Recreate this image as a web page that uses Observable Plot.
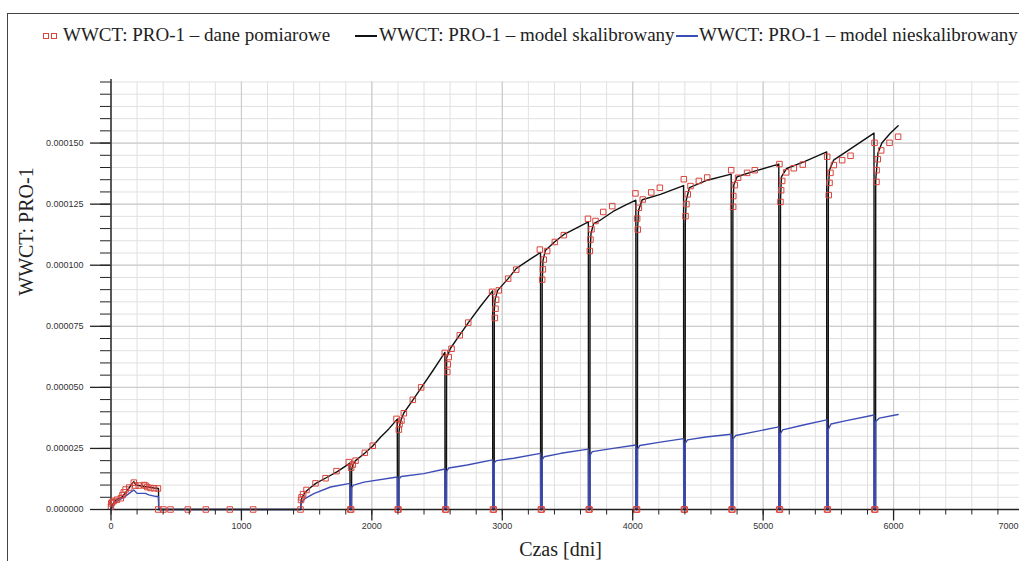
<!DOCTYPE html>
<html>
<head>
<meta charset="utf-8">
<script src="https://cdn.jsdelivr.net/npm/d3@7"></script>
<script src="https://cdn.jsdelivr.net/npm/@observablehq/plot@0.6"></script>
<style>
  html, body { margin: 0; padding: 0; background: #fff; overflow: hidden; }
  #wrap { position: relative; width: 1019px; height: 561px; overflow: hidden; background: #fff; }
  #legend { position: relative; height: 70px; font-family: "Liberation Serif", "Times New Roman", serif; color: #222; }
  #legend .t { position: absolute; top: 23px; font-size: 19px; line-height: 24px; white-space: nowrap; }
  #legend .sq { position: absolute; top: 33px; width: 4px; height: 4px; border: 1px solid #d9453c; }
  #legend .ln { position: absolute; top: 35px; width: 22px; height: 2px; }
  #frame { position: absolute; left: 7px; top: 13px; width: 2000px; height: 2000px; border-left: 1px solid #444; border-top: 1px solid #444; pointer-events: none; }
  #chart { width: 1060px; }
  #chart svg { display: block; max-width: none !important; }
</style>
</head>
<body>
<div id="wrap">
  <div id="legend">
    <span class="sq" style="left:43px"></span><span class="sq" style="left:51px"></span>
    <span class="t" style="left:63px">WWCT: PRO-1 – dane pomiarowe</span>
    <span class="ln" style="left:355px;background:#111"></span>
    <span class="t" style="left:379px">WWCT: PRO-1 – model skalibrowany</span>
    <span class="ln" style="left:676px;background:#3d4db7"></span>
    <span class="t" style="left:699px">WWCT: PRO-1 – model nieskalibrowany</span>
  </div>
  <div id="chart"></div>
  <div id="frame"></div>
</div>
<script>
// ---- data ----
const seriesNames = ["WWCT: PRO-1 – dane pomiarowe", "WWCT: PRO-1 – model skalibrowany", "WWCT: PRO-1 – model nieskalibrowany"];
const xMajorTicks = [0, 1000, 2000, 3000, 4000, 5000, 6000, 7000];
const xLabelTicks = [0, 1000, 2000, 3000, 4000, 5000, 6000];
const xEdgeTick = [7000];
const xMinorTicks = [0,200,400,600,800,1000,1200,1400,1600,1800,2000,2200,2400,2600,2800,3000,3200,3400,3600,3800,4000,4200,4400,4600,4800,5000,5200,5400,5600,5800,6000,6200,6400,6600,6800,7000];
const yMajorTicks = [0, 0.000025, 0.00005, 0.000075, 0.0001, 0.000125, 0.00015];
const yMinorTicks = [0,0.000005,0.00001,0.000015,0.00002,0.000025,0.00003,0.000035,0.00004,0.000045,0.00005,0.000055,0.00006,0.000065,0.00007,0.000075,0.00008,0.000085,0.00009,0.000095,0.0001,0.000105,0.00011,0.000115,0.00012,0.000125,0.00013,0.000135,0.00014,0.000145,0.00015,0.000155,0.00016,0.000165,0.00017,0.000175];

// calibrated model (day, WWCT)
const calibrated = [
  [0,0],[10,2.0e-6],[35,3.8e-6],[86,5.2e-6],[110,6.8e-6],[137,8.7e-6],[160,1.05e-5],[175,1.14e-5],[190,1.02e-5],[200,9.9e-6],[260,9.4e-6],[330,8.8e-6],[364,8.6e-6],[366,0],
  [1455,0],[1457,3.5e-6],[1465,5.0e-6],[1490,7.2e-6],[1530,9.0e-6],[1570,1.07e-5],[1650,1.30e-5],[1735,1.55e-5],[1832,1.9e-5],
  [1833,0],[1844,0],[1845,1.62e-5],[1855,1.85e-5],[1875,2.0e-5],[1945,2.3e-5],[2007,2.6e-5],[2066,2.96e-5],[2130,3.3e-5],[2195,3.7e-5],
  [2196,0],[2207,0],[2208,3.15e-5],[2215,3.5e-5],[2227,3.72e-5],[2245,3.95e-5],[2310,4.45e-5],[2378,4.98e-5],[2470,5.7e-5],[2560,6.43e-5],
  [2561,0],[2572,0],[2573,6.2e-5],[2603,6.6e-5],[2674,7.15e-5],[2743,7.67e-5],[2830,8.3e-5],[2926,8.95e-5],
  [2927,0],[2938,0],[2939,8.2e-5],[2945,8.6e-5],[2965,8.97e-5],[3045,9.45e-5],[3108,9.87e-5],[3200,1.02e-4],[3293,1.052e-4],
  [3294,0],[3305,0],[3306,9.25e-5],[3312,1.02e-4],[3330,1.06e-4],[3400,1.095e-4],[3470,1.125e-4],[3560,1.15e-4],[3660,1.177e-4],
  [3661,0],[3672,0],[3673,1.05e-4],[3680,1.13e-4],[3700,1.17e-4],[3753,1.185e-4],[3850,1.22e-4],[3940,1.245e-4],[4024,1.266e-4],
  [4025,0],[4036,0],[4037,1.145e-4],[4045,1.225e-4],[4073,1.268e-4],[4213,1.29e-4],[4390,1.326e-4],
  [4391,0],[4402,0],[4403,1.17e-4],[4410,1.266e-4],[4435,1.318e-4],[4571,1.348e-4],[4755,1.373e-4],
  [4756,0],[4767,0],[4768,1.225e-4],[4775,1.328e-4],[4800,1.362e-4],[4928,1.384e-4],[5120,1.414e-4],
  [5121,0],[5132,0],[5133,1.266e-4],[5140,1.362e-4],[5180,1.396e-4],[5312,1.423e-4],[5487,1.464e-4],
  [5488,0],[5499,0],[5500,1.307e-4],[5508,1.389e-4],[5540,1.43e-4],[5618,1.458e-4],[5850,1.541e-4],
  [5851,0],[5862,0],[5863,1.348e-4],[5880,1.458e-4],[5910,1.5e-4],[5975,1.54e-4],[6035,1.571e-4]
];

// uncalibrated model (day, WWCT)
const uncalibrated = [
  [0,0],[35,3.0e-6],[86,4.6e-6],[111,5.4e-6],[150,7.0e-6],[175,8.0e-6],[200,6.6e-6],[264,6.6e-6],[290,6.0e-6],[340,5.4e-6],[364,5.2e-6],[366,0],
  [1455,0],[1457,2.0e-6],[1466,3.2e-6],[1490,4.6e-6],[1555,6.5e-6],[1683,9.2e-6],[1832,1.07e-5],
  [1833,0],[1844,0],[1845,9.0e-6],[1860,1.0e-5],[1940,1.12e-5],[2195,1.33e-5],
  [2196,0],[2207,0],[2208,1.25e-5],[2225,1.35e-5],[2398,1.47e-5],[2560,1.66e-5],
  [2561,0],[2572,0],[2573,1.56e-5],[2590,1.7e-5],[2731,1.82e-5],[2926,2.03e-5],
  [2927,0],[2938,0],[2939,1.91e-5],[2955,2.0e-5],[3088,2.1e-5],[3293,2.3e-5],
  [3294,0],[3305,0],[3306,2.03e-5],[3320,2.16e-5],[3450,2.3e-5],[3660,2.47e-5],
  [3661,0],[3672,0],[3673,2.23e-5],[3690,2.37e-5],[3850,2.5e-5],[4024,2.64e-5],
  [4025,0],[4036,0],[4037,2.47e-5],[4055,2.62e-5],[4200,2.75e-5],[4390,2.9e-5],
  [4391,0],[4402,0],[4403,2.72e-5],[4420,2.85e-5],[4560,2.97e-5],[4755,3.08e-5],
  [4756,0],[4767,0],[4768,2.88e-5],[4790,3.03e-5],[4930,3.18e-5],[5120,3.38e-5],
  [5121,0],[5132,0],[5133,3.12e-5],[5150,3.26e-5],[5300,3.45e-5],[5487,3.67e-5],
  [5488,0],[5499,0],[5500,3.28e-5],[5520,3.5e-5],[5620,3.62e-5],[5850,3.87e-5],
  [5851,0],[5862,0],[5863,3.6e-5],[5890,3.74e-5],[6035,3.89e-5]
];

// measured data (day, WWCT)
const measured = [
  [0,1.2e-6],[2,2.5e-6],[9,3.0e-6],[22,3.5e-6],[45,4.0e-6],[75,4.6e-6],[88,5.9e-6],[98,7.0e-6],[112,8.2e-6],[140,9.0e-6],[175,1.1e-5],[186,9.8e-6],[213,9.8e-6],[252,1.0e-5],[264,9.8e-6],[278,9.2e-6],[303,8.8e-6],[330,8.7e-6],[360,8.6e-6],
  [362,0],[402,0],[456,0],[589,0],[727,0],[911,0],[1090,0],[1453,0],
  [1457,3.9e-6],[1461,5.0e-6],[1473,6.3e-6],[1499,8.0e-6],[1568,1.07e-5],[1645,1.28e-5],[1729,1.57e-5],[1823,1.94e-5],[1841,1.71e-5],[1854,1.84e-5],[1875,2.0e-5],[1946,2.32e-5],[2007,2.61e-5],
  [2189,3.71e-5],[2207,3.27e-5],[2212,3.5e-5],[2227,3.64e-5],[2245,3.94e-5],[2314,4.49e-5],[2378,5.0e-5],
  [2559,6.41e-5],[2578,5.63e-5],[2582,5.94e-5],[2590,6.24e-5],[2611,6.58e-5],[2674,7.13e-5],[2739,7.65e-5],
  [2922,8.91e-5],[2943,7.84e-5],[2948,8.22e-5],[2953,8.59e-5],[2973,8.97e-5],[3045,9.45e-5],[3107,9.82e-5],
  [3288,1.064e-4],[3306,9.41e-5],[3311,9.83e-5],[3318,1.023e-4],[3344,1.058e-4],[3403,1.095e-4],[3472,1.123e-4],
  [3657,1.19e-4],[3671,1.058e-4],[3676,1.105e-4],[3684,1.147e-4],[3715,1.181e-4],[3774,1.218e-4],[3843,1.242e-4],
  [4021,1.294e-4],[4034,1.191e-4],[4039,1.146e-4],[4047,1.235e-4],[4077,1.269e-4],[4142,1.298e-4],[4208,1.317e-4],
  [4392,1.352e-4],[4405,1.201e-4],[4412,1.25e-4],[4422,1.29e-4],[4443,1.324e-4],[4507,1.345e-4],[4571,1.359e-4],
  [4755,1.389e-4],[4770,1.239e-4],[4771,1.283e-4],[4783,1.328e-4],[4808,1.358e-4],[4877,1.378e-4],[4936,1.389e-4],
  [5125,1.414e-4],[5133,1.259e-4],[5138,1.307e-4],[5146,1.345e-4],[5177,1.38e-4],[5235,1.397e-4],[5304,1.412e-4],
  [5491,1.444e-4],[5503,1.287e-4],[5509,1.337e-4],[5516,1.378e-4],[5542,1.41e-4],[5606,1.43e-4],[5670,1.448e-4],
  [5854,1.501e-4],[5869,1.341e-4],[5870,1.389e-4],[5879,1.434e-4],[5905,1.47e-4],[5969,1.501e-4],[6035,1.526e-4],
  [1835,0],[1841,0],[2198,0],[2204,0],[2563,0],[2569,0],[2929,0],[2935,0],[3296,0],[3302,0],[3663,0],[3669,0],
  [4027,0],[4033,0],[4393,0],[4399,0],[4758,0],[4764,0],[5123,0],[5129,0],[5490,0],[5496,0],[5853,0],[5859,0]
];

const colors = { measured: "#d9453c", calibrated: "#111111", uncalibrated: "#3d4db7" };

const fmtY = d => d.toFixed(6);
const fmtX = d => String(d);

const chart = Plot.plot({
  width: 1060,
  height: 491,
  marginLeft: 110.5,
  marginRight: 36.5,
  marginTop: 11.5,
  marginBottom: 52,
  style: { fontFamily: "'Liberation Sans', Arial, sans-serif", fontSize: "9px", color: "#333", background: "transparent", maxWidth: "none" },
  x: { domain: [0, 7000], axis: null },
  y: { domain: [0, 0.000175], axis: null },
  marks: [
    Plot.gridX(xMinorTicks, { stroke: "#e1e1e1", strokeOpacity: 1, strokeWidth: 1 }),
    Plot.gridY(yMinorTicks, { stroke: "#e1e1e1", strokeOpacity: 1, strokeWidth: 1 }),
    Plot.gridX(xMajorTicks, { stroke: "#cdcdcd", strokeOpacity: 1, strokeWidth: 1.2 }),
    Plot.gridY(yMajorTicks, { stroke: "#cdcdcd", strokeOpacity: 1, strokeWidth: 1.2 }),
    Plot.line(calibrated, { x: d => d[0], y: d => d[1], stroke: colors.calibrated, strokeWidth: 1.4 }),
    Plot.line(uncalibrated, { x: d => d[0], y: d => d[1], stroke: colors.uncalibrated, strokeWidth: 1.4 }),
    Plot.ruleY([0], { stroke: "#222", strokeWidth: 1.4 }),
    Plot.ruleX([0], { y1: 0, y2: 0.000176, stroke: "#222", strokeWidth: 1.4 }),
    Plot.dot(measured, { x: d => d[0], y: d => d[1], symbol: "square", r: 3.1, stroke: colors.measured, strokeWidth: 1, fill: "none" }),
    Plot.axisY({ ticks: yMajorTicks, anchor: "left", tickSize: 20.5, tickPadding: 7, tickFormat: fmtY, label: null, stroke: "#222", strokeWidth: 1.3 }),
    Plot.axisY({ ticks: yMinorTicks, anchor: "left", tickSize: 10.5, tickFormat: () => "", label: null, stroke: "#222" }),
    Plot.axisX({ ticks: xLabelTicks, anchor: "bottom", tickSize: 11.5, tickPadding: 1.5, tickFormat: fmtX, label: null, stroke: "#222", strokeWidth: 1.3 }),
    Plot.axisX({ ticks: xEdgeTick, anchor: "bottom", tickSize: 11.5, tickFormat: () => "", label: null, stroke: "#222", strokeWidth: 1.3 }),
    Plot.axisX({ ticks: xMinorTicks, anchor: "bottom", tickSize: 5.5, tickFormat: () => "", label: null, stroke: "#222" }),
    Plot.text(xEdgeTick, { x: d => d, frameAnchor: "bottom", dy: 16.5, dx: -5.5, textAnchor: "end", lineAnchor: "middle", text: fmtX, fontSize: 9, fill: "#333" }),
    Plot.text(["WWCT: PRO-1"], { frameAnchor: "left", dx: -84, rotate: -90, fontSize: 20, fontFamily: "'Liberation Serif', 'Times New Roman', serif", fill: "#222" }),
    Plot.text(["Czas [dni]"], { frameAnchor: "bottom", dx: -7, dy: 40, lineAnchor: "middle", fontSize: 20, fontFamily: "'Liberation Serif', 'Times New Roman', serif", fill: "#222" })
  ]
});
document.getElementById("chart").appendChild(chart);
</script>
</body>
</html>
